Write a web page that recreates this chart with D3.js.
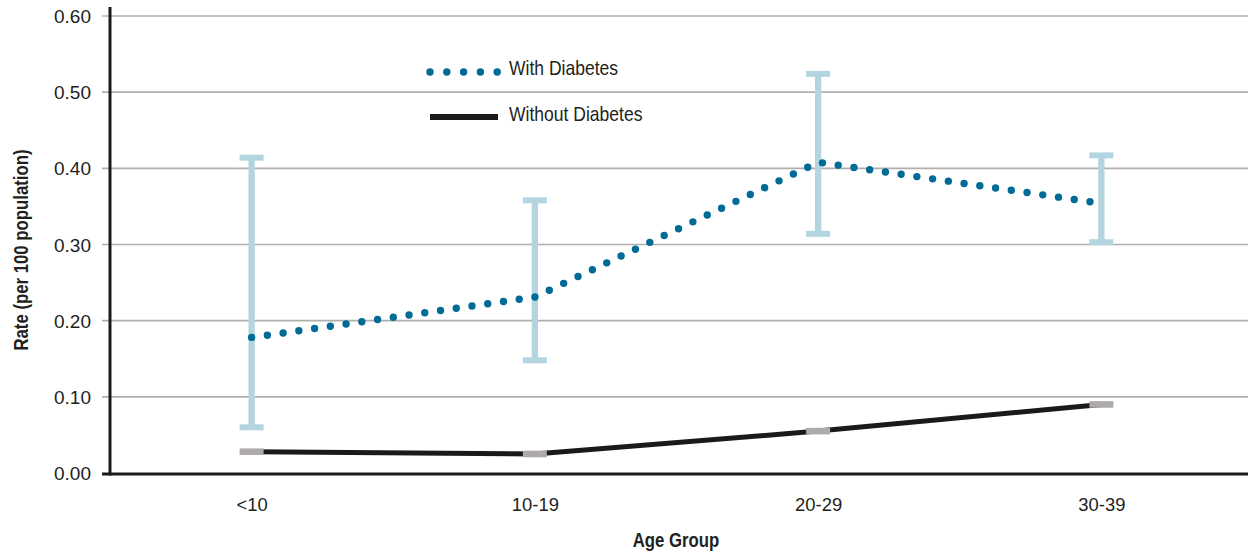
<!DOCTYPE html>
<html>
<head>
<meta charset="utf-8">
<script src="https://cdn.jsdelivr.net/npm/d3@7"></script>
<style>
  html, body { margin: 0; padding: 0; background: #fff; }
  svg { display: block; }
  text { font-family: "Liberation Sans", Arial, sans-serif; fill: #231f20; }
</style>
</head>
<body>
<svg id="chart" width="1248" height="555"></svg>
<script>
// Age groups on the x axis
const ageGroups = ["<10", "10-19", "20-29", "30-39"];
// Rate per 100 population, with diabetes, and its confidence interval
const withDiabetes = [0.178, 0.231, 0.408, 0.354];
const withLower = [0.060, 0.148, 0.314, 0.303];
const withUpper = [0.414, 0.358, 0.524, 0.417];
// Rate per 100 population, without diabetes
const withoutDiabetes = [0.028, 0.025, 0.055, 0.090];
// Y axis tick values and labels
const yTicks = [0, 0.1, 0.2, 0.3, 0.4, 0.5, 0.6];
const yTickLabels = ["0.00", "0.10", "0.20", "0.30", "0.40", "0.50", "0.60"];
// Legend entries
const legendLabels = ["With Diabetes", "Without Diabetes"];

const svg = d3.select("#chart");
const W = 1248;
const axisX = 110, axisY = 474, topY = 16;
const ink = "#231f20";

const x = d3.scalePoint().domain(ageGroups).range([110, 1243]).padding(0.5);
const y = d3.scaleLinear().domain([0, 0.6]).range([473, topY]);

// Horizontal gridlines, which also form the short ticks left of the axis
svg.append("g").selectAll("line")
  .data(yTicks.filter(d => d > 0))
  .join("line")
  .attr("x1", 102).attr("x2", W)
  .attr("y1", d => y(d)).attr("y2", d => y(d))
  .attr("stroke", "#b3aeae").attr("stroke-width", 1.6);

// Y axis labels
const yAxis = d3.axisLeft(y).tickValues(yTicks)
  .tickFormat((d, i) => yTickLabels[i]).tickSize(0).tickPadding(0);
const yg = svg.append("g").attr("transform", "translate(91,0)").call(yAxis);
yg.select(".domain").remove();
yg.selectAll("text")
  .attr("font-size", 19).attr("dy", "0.35em")
  .attr("font-family", "\"Liberation Sans\", Arial, sans-serif")
  .attr("fill", ink);

// X axis labels
const xAxis = d3.axisBottom(x).tickSize(0).tickPadding(0);
const xg = svg.append("g").attr("transform", "translate(0,498)").call(xAxis);
xg.select(".domain").remove();
xg.selectAll("text")
  .attr("font-size", 19)
  .attr("font-family", "\"Liberation Sans\", Arial, sans-serif")
  .attr("fill", ink)
  .attr("transform", "scale(0.97,1)");

// Axis lines
svg.append("line").attr("x1", axisX).attr("x2", axisX).attr("y1", 7).attr("y2", axisY + 1.5)
  .attr("stroke", "#1a1a1a").attr("stroke-width", 3);
svg.append("line").attr("x1", 102).attr("x2", W).attr("y1", axisY).attr("y2", axisY)
  .attr("stroke", "#1a1a1a").attr("stroke-width", 3);

// Error bars for the with-diabetes series
const eb = svg.append("g");
const ebColor = "#b3d5e0";
eb.selectAll("line.v").data(ageGroups).join("line").attr("class", "v")
  .attr("x1", d => x(d)).attr("x2", d => x(d))
  .attr("y1", (d, i) => y(withUpper[i])).attr("y2", (d, i) => y(withLower[i]))
  .attr("stroke", ebColor).attr("stroke-width", 6.3);
eb.selectAll("line.t").data(ageGroups).join("line").attr("class", "t")
  .attr("x1", d => x(d) - 12).attr("x2", d => x(d) + 12)
  .attr("y1", (d, i) => y(withUpper[i])).attr("y2", (d, i) => y(withUpper[i]))
  .attr("stroke", ebColor).attr("stroke-width", 6);
eb.selectAll("line.b").data(ageGroups).join("line").attr("class", "b")
  .attr("x1", d => x(d) - 12).attr("x2", d => x(d) + 12)
  .attr("y1", (d, i) => y(withLower[i])).attr("y2", (d, i) => y(withLower[i]))
  .attr("stroke", ebColor).attr("stroke-width", 6);

// Both series are drawn as straight segments between the age groups
const line = d3.line().x(d => x(d.g)).y(d => y(d.v));

// Without-diabetes line and its gray point markers
svg.append("path")
  .datum(ageGroups.map((g, i) => ({ g, v: withoutDiabetes[i] })))
  .attr("d", line)
  .attr("fill", "none").attr("stroke", "#1a1a1a").attr("stroke-width", 5)
  .attr("stroke-linejoin", "round");
svg.append("g").selectAll("rect")
  .data(ageGroups)
  .join("rect")
  .attr("x", d => x(d) - 12).attr("y", (d, i) => y(withoutDiabetes[i]) - 3.3)
  .attr("width", 24).attr("height", 6.6)
  .attr("fill", "#aeaaaa");

// With-diabetes dotted line
svg.append("path")
  .datum(ageGroups.map((g, i) => ({ g, v: withDiabetes[i] })))
  .attr("d", line)
  .attr("fill", "none").attr("stroke", "#006b96").attr("stroke-width", 7.4)
  .attr("stroke-linecap", "round").attr("stroke-dasharray", "0 15.9");

// Legend
const lg = svg.append("g");
lg.append("line").attr("x1", 430).attr("x2", 499).attr("y1", 72).attr("y2", 72)
  .attr("stroke", "#006b96").attr("stroke-width", 7.4)
  .attr("stroke-linecap", "round").attr("stroke-dasharray", "0 16.8");
lg.append("line").attr("x1", 430).attr("x2", 498).attr("y1", 117).attr("y2", 117)
  .attr("stroke", "#1a1a1a").attr("stroke-width", 6);
lg.selectAll("text").data(legendLabels).join("text")
  .attr("transform", (d, i) => `translate(509,${75 + i * 46}) scale(0.835,1)`)
  .attr("font-size", 21).attr("fill", ink).text(d => d);

// Axis titles
svg.append("text").attr("transform", "translate(676,547) scale(0.86,1)")
  .attr("text-anchor", "middle").attr("fill", ink)
  .attr("font-size", 19.5).attr("font-weight", "bold").text("Age Group");
svg.append("text").attr("transform", "translate(27.5,250) rotate(-90) scale(0.86,1)")
  .attr("text-anchor", "middle").attr("fill", ink)
  .attr("font-size", 19.5).attr("font-weight", "bold")
  .text("Rate (per 100 population)");
</script>
</body>
</html>
